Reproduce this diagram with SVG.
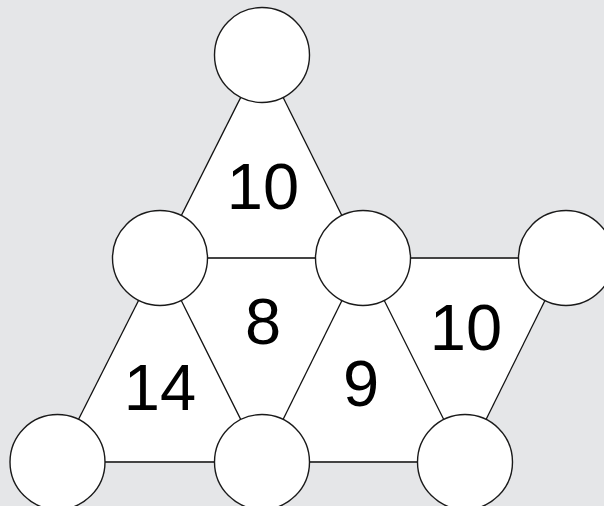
<svg xmlns="http://www.w3.org/2000/svg" width="604" height="506" viewBox="0 0 604 506">
<style>
.bg{fill:#e5e6e8}
.node circle{fill:#ffffff;stroke:#1a1a1a;stroke-width:1.4}
.d{stroke:#111111;stroke-width:1.3;fill:none}
.h{stroke:#444444;stroke-width:2;fill:none}
.lbl{font-family:"Liberation Sans",Arial,sans-serif;font-size:65px;fill:#000000;text-anchor:middle}
</style>
<rect class="bg" x="0" y="0" width="604" height="506"/>
<polygon points="262,55 363,258 566,258 465,462 57,462 160,258" fill="#ffffff"/>
<g id="connectors">
<line class="d" x1="262" y1="55" x2="160" y2="258"/>
<line class="d" x1="262" y1="55" x2="363" y2="258"/>
<line class="h" x1="160" y1="258" x2="363" y2="258"/>
<line class="h" x1="363" y1="258" x2="566" y2="258"/>
<line class="d" x1="160" y1="258" x2="57" y2="462"/>
<line class="d" x1="160" y1="258" x2="262" y2="462"/>
<line class="d" x1="363" y1="258" x2="262" y2="462"/>
<line class="d" x1="363" y1="258" x2="465" y2="462"/>
<line class="d" x1="566" y1="258" x2="465" y2="462"/>
<line class="h" x1="57" y1="462" x2="262" y2="462"/>
<line class="h" x1="262" y1="462" x2="465" y2="462"/>
</g>
<g id="labels">
<text class="lbl" x="263" y="209">10</text>
<text class="lbl" x="263" y="344">8</text>
<text class="lbl" x="160" y="410">14</text>
<text class="lbl" x="361" y="406">9</text>
<text class="lbl" x="466" y="350">10</text>
</g>
<g id="n-top" class="node"><circle cx="262" cy="55" r="47.5"/></g>
<g id="n-midleft" class="node"><circle cx="160" cy="258" r="47.5"/></g>
<g id="n-midcenter" class="node"><circle cx="363" cy="258" r="47.5"/></g>
<g id="n-right" class="node"><circle cx="566" cy="258" r="47.5"/></g>
<g id="n-botleft" class="node"><circle cx="57.5" cy="462" r="47.5"/></g>
<g id="n-botcenter" class="node"><circle cx="262" cy="462" r="47.5"/></g>
<g id="n-botright" class="node"><circle cx="465" cy="462" r="47.5"/></g>
</svg>
